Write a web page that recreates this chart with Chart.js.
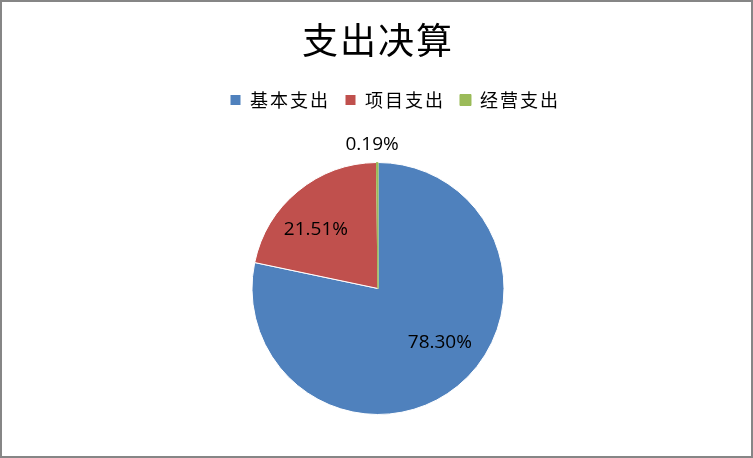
<!DOCTYPE html>
<html><head><meta charset="utf-8">
<script src="https://cdn.jsdelivr.net/npm/chart.js@4"></script>
<style>html,body{margin:0;padding:0;background:#fff;}canvas{display:block;}</style>
</head><body>
<canvas id="c" width="753" height="458" style="width:753px;height:458px"></canvas>
<script>
const titleText = '支出决算';
const categories = ['基本支出', '项目支出', '经营支出'];
const values = [78.30, 21.51, 0.19];
const colors = ['#4F81BD', '#C0504D', '#9BBB59'];
const borderColors = ['#ffffff', '#ffffff', '#9BBB59'];
const labelAngleShift = [-10, -7, -2];
const labelRadius = [0.65, 0.68, 1.14];

const spacingPlugin = {
  id: 'spacing',
  beforeLayout(chart) { chart.ctx.letterSpacing = '2px'; },
  afterLayout(chart) { if (chart.legend) chart.legend.left += 34; },
  beforeDraw(chart) { chart.ctx.letterSpacing = '2px'; }
};

const labelPlugin = {
  id: 'pctLabels',
  afterDatasetsDraw(chart) {
    const ctx = chart.ctx;
    const meta = chart.getDatasetMeta(0);
    ctx.save();
    ctx.letterSpacing = '0px';
    ctx.font = '19px "Open Sans"';
    ctx.fillStyle = '#000';
    ctx.textAlign = 'center';
    ctx.textBaseline = 'middle';
    meta.data.forEach((arc, i) => {
      const p = arc.getProps(['x', 'y', 'startAngle', 'endAngle', 'outerRadius'], true);
      const a = (p.startAngle + p.endAngle) / 2 + labelAngleShift[i] * Math.PI / 180;
      const r = p.outerRadius * labelRadius[i];
      ctx.fillText(values[i].toFixed(2) + '%', p.x + Math.cos(a) * r, p.y + Math.sin(a) * r);
    });
    ctx.restore();
  }
};

const framePlugin = {
  id: 'frame',
  afterDraw(chart) {
    const ctx = chart.ctx;
    ctx.save();
    ctx.strokeStyle = '#868686';
    ctx.lineWidth = 2;
    ctx.strokeRect(1, 1, chart.width - 2, chart.height - 2);
    ctx.restore();
  }
};

new Chart(document.getElementById('c'), {
  type: 'pie',
  data: {
    labels: categories,
    datasets: [{
      data: values,
      backgroundColor: colors,
      borderColor: borderColors,
      borderWidth: 1,
      radius: 126
    }]
  },
  options: {
    responsive: false,
    animation: false,
    devicePixelRatio: 1,
    layout: { padding: { left: 3, right: 0, top: 0, bottom: 0 } },
    plugins: {
      title: {
        display: true,
        text: titleText,
        color: '#000',
        font: { family: '"Noto Sans CJK SC"', size: 36, weight: 'normal' },
        padding: { top: 18.4, bottom: 14.4 }
      },
      legend: {
        display: true,
        position: 'top',
        labels: {
          color: '#000',
          boxWidth: 11,
          boxHeight: 11,
          padding: 15,
          font: { family: '"Noto Sans CJK SC"', size: 18 }
        }
      },
      tooltip: { enabled: false }
    }
  },
  plugins: [spacingPlugin, labelPlugin, framePlugin]
});
</script>
</body></html>
